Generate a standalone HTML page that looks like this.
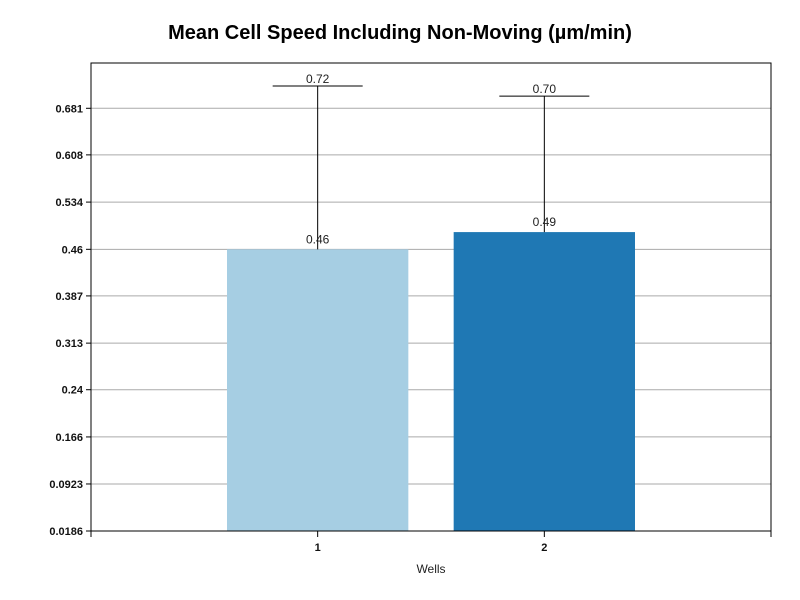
<!DOCTYPE html>
<html><head><meta charset="utf-8"><style>
body{margin:0;background:#fff;}
svg{display:block;font-family:"Liberation Sans",sans-serif;}
</style></head><body>
<svg id="chart" width="800" height="600">
<text x="400" y="39" text-anchor="middle" font-size="20" font-weight="bold" fill="#000">Mean Cell Speed Including Non-Moving (µm/min)</text>
<g id="grid"></g><g id="bars"></g><g id="axes"></g>
<text x="431" y="573" text-anchor="middle" font-size="12" fill="#222">Wells</text>
</svg>
<script>
const categories = ["1", "2"];
const means = [0.46, 0.487];
const upper = [0.716, 0.70];
const meanLabels = ["0.46", "0.49"];
const upperLabels = ["0.72", "0.70"];
const yTicks = [0.0186, 0.0923, 0.166, 0.24, 0.313, 0.387, 0.46, 0.534, 0.608, 0.681];
const yTickLabels = ["0.0186", "0.0923", "0.166", "0.24", "0.313", "0.387", "0.46", "0.534", "0.608", "0.681"];
const colors = ["#a6cee3", "#1f78b4"];

const L=91,R=771,T=63,B=531;
const yMin=0.0186, yMax=0.0186+(B-T)/47*0.07365;
const y=v=>B-(v-yMin)/(yMax-yMin)*(B-T);
const x=i=>L+(i+1)*(R-L)/3;
const NS="http://www.w3.org/2000/svg";
function mk(parent,tag,attrs,text){const e=document.createElementNS(NS,tag);for(const k in attrs)e.setAttribute(k,attrs[k]);if(text!=null)e.textContent=text;parent.appendChild(e);return e;}
const grid=document.getElementById('grid'),bars=document.getElementById('bars'),axes=document.getElementById('axes');
yTicks.forEach((v,i)=>{
  const g=mk(grid,'line',{x1:L,x2:R,y1:y(v),y2:y(v),stroke:'#aaa','stroke-width':1});
  
  
  const t=mk(axes,'line',{x1:L-5,x2:L,y1:y(v),y2:y(v),stroke:'#000'});
  
  
  const l=mk(axes,'text',{x:L-8,y:y(v)+4,'text-anchor':'end','font-size':11,'font-weight':'bold',fill:'#111'},yTickLabels[i]);
  
  
});
const bw=0.8*(R-L)/3;
categories.forEach((c,i)=>{
  const cx=x(i);
  const b=mk(bars,'rect',{x:cx-bw/2,y:y(means[i]),width:bw,height:B-y(means[i]),fill:colors[i]});
  
  
  const e=mk(bars,'line',{x1:cx,x2:cx,y1:y(upper[i]),y2:y(means[i]),stroke:'#000'});
  
  
  const cap=mk(bars,'line',{x1:cx-45,x2:cx+45,y1:y(upper[i]),y2:y(upper[i]),stroke:'#000'});
  
  
  const ml=mk(bars,'text',{x:cx,y:y(means[i])-6,'text-anchor':'middle','font-size':12,fill:'#222'},meanLabels[i]);
  
  
  const ul=mk(bars,'text',{x:cx,y:y(upper[i])-3,'text-anchor':'middle','font-size':12,fill:'#222'},upperLabels[i]);
  
  
  const xl=mk(axes,'text',{x:cx,y:B+20,'text-anchor':'middle','font-size':11,'font-weight':'bold',fill:'#111'},c);
  
  
});
[L,x(0),x(1),R].forEach(px=>{
  const t=mk(axes,'line',{x1:px,x2:px,y1:B,y2:B+6,stroke:'#000'});
  
  
});
const frame=mk(axes,'rect',{x:L,y:T,width:R-L,height:B-T,fill:'none',stroke:'#000','stroke-width':1});


</script>
</body></html>
